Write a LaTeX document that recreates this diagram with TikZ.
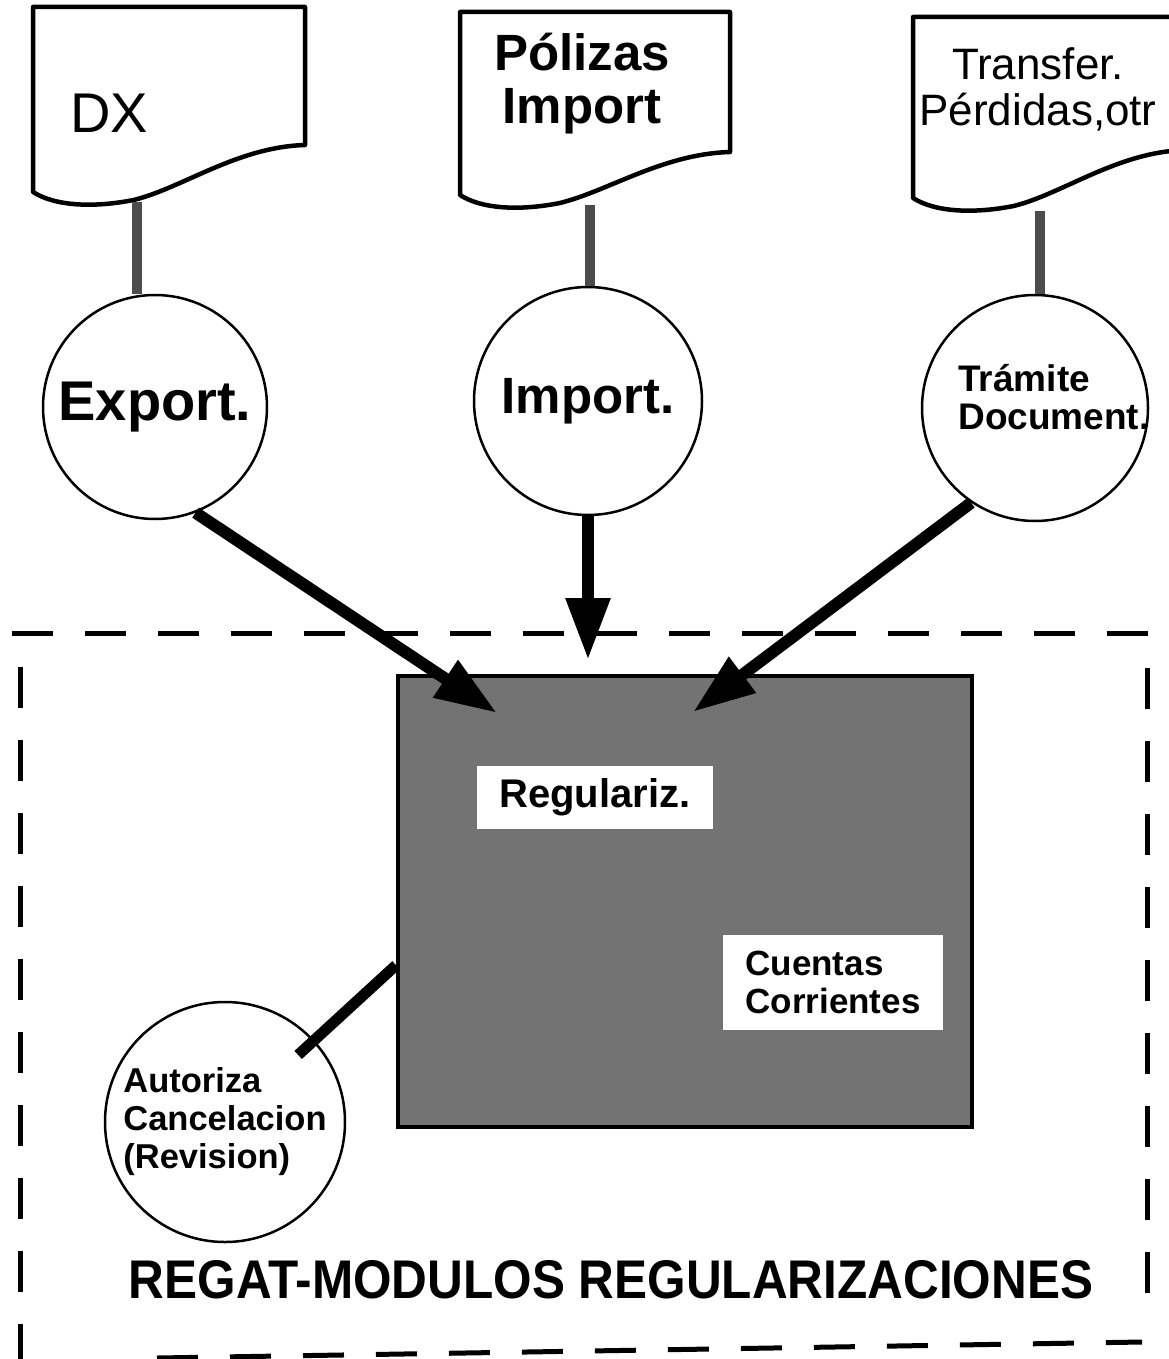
\documentclass[tikz,border=0pt]{standalone}
\usepackage{fontspec}
\setmainfont{Liberation Sans}
\usetikzlibrary{arrows.meta, calc}

% document symbol with wavy bottom: x0, y0, x1, right bottom, left bottom
\newcommand{\docsym}[5]{%
  \draw[docline] (#1,#5) -- (#1,#2) -- (#3,#2) -- (#3,#4)
    .. controls ({#3-0.25*(#3-#1)},{#4+2}) and ({#1+0.55*(#3-#1)},{#5-4}) .. ({#1+0.37*(#3-#1)},{#5+8})
    .. controls ({#1+0.22*(#3-#1)},{#5+16}) and ({#1+0.08*(#3-#1)},{#5+14}) .. cycle;
}

\begin{document}
\begin{tikzpicture}[
    x=1pt, y=-1pt,
    docline/.style = {line width=4.5pt, fill=white, line join=round},
    proc/.style    = {circle, draw, line width=2.5pt, fill=white, inner sep=0pt},
    link/.style    = {line width=10pt, draw=black!70},
    arr/.style     = {line width=12pt, -{Triangle[length=62pt, width=42pt]}},
    bar/.style     = {line width=11pt},
    frame/.style   = {line width=5pt, dash pattern=on 41pt off 32pt},
    tag/.style     = {fill=white, inner sep=0pt},
    big/.style     = {font=\bfseries\fontsize{56}{60}\selectfont},
    mid/.style     = {font=\bfseries\fontsize{37}{38}\selectfont}
]
  \path[use as bounding box, fill=white] (0,0) rectangle (1169,1359);

  % dashed module frame
  \draw[frame] (12,633) -- (1152,633);
  \draw[frame] (20,667) -- (20,1400);
  \draw[frame] (1147,668) -- (1147,1315);
  \draw[frame] (157,1358) -- (1142,1342);

  % source documents
  \docsym{33}{7}{305}{145}{192}
  \docsym{460}{12}{730}{152}{195}
  \docsym{913}{17}{1185}{150}{198}
  \node[font=\fontsize{56}{60}\selectfont] (dx) at (109,113) {DX};
  \node[font=\bfseries\fontsize{51}{53}\selectfont, align=center] (pol) at (582,84) {Pólizas\\Import};
  \node[font=\fontsize{44}{46}\selectfont, align=center] (tran) at (1038,89) {Transfer.\\Pérdidas,otr};
  \coordinate (dxb)  at (137,202);
  \coordinate (polb) at (590,205);
  \coordinate (tranb) at (1040,211);

  % processes
  \node[proc, big, minimum size=224pt] (exp) at (155,407) {Export.};
  \node[proc, font=\bfseries\fontsize{51}{54}\selectfont, minimum size=228pt] (imp) at (588,401) {Import.};
  \node[proc, minimum size=226pt] (tra) at (1035,408) {};
  \node[mid, align=left, inner sep=0pt] (tratxt) at (1054,397) {Trámite\\Document.};

  \draw[link] (dxb) -- (dxb |- exp.north);
  \draw[link] (polb) -- (polb |- imp.north);
  \draw[link] (tranb) -- (tranb |- tra.north);

  % regularization module
  \node[draw, line width=4pt, fill=black!55, minimum width=574pt, minimum height=451pt] (reg) at (685,901.5) {};
  \node[tag, font=\bfseries\fontsize{40}{42}\selectfont, minimum width=236pt, minimum height=63pt] (regz) at (595,797) {Regulariz.};
  \node[tag, font=\bfseries\fontsize{35}{38}\selectfont, align=left, minimum width=220pt, minimum height=95pt] (cc) at (833,982) {Cuentas\\Corrientes};

  \node[proc, font=\bfseries\fontsize{34.5}{38}\selectfont, align=left, minimum size=240pt] (aut) at (225,1122) {Autoriza\\Cancelacion\\(Revision)};
  \draw[bar, shorten >=-22pt] ($(reg.north west)!0.64!(reg.south west)$) -- (aut);

  \coordinate (tipa) at (497,713);
  \coordinate (tipb) at (588,660);
  \coordinate (tipc) at (693,712);
  \draw[arr] (exp.-69) -- (tipa);
  \draw[arr] (imp) -- (tipb);
  \draw[arr] (tra.-124) -- (tipc);

  \node[font=\bfseries\fontsize{49.5}{52}\selectfont] (title) at (611,1280)
    {\scalebox{1}[1.1]{REGAT-MODULOS REGULARIZACIONES}};
\end{tikzpicture}
\end{document}
